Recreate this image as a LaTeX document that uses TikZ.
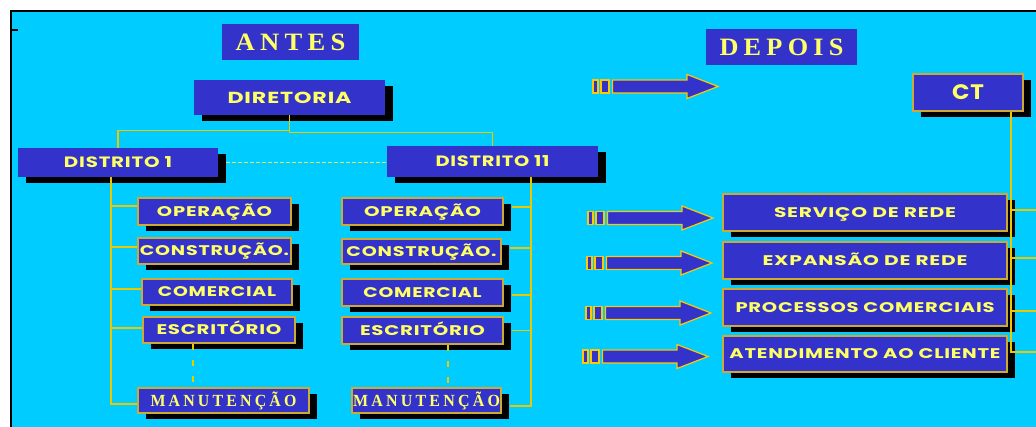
\documentclass[tikz,border=0pt]{standalone}
\usepackage{fontspec}
\usepackage{graphicx}
\usetikzlibrary{shadows}
\newfontfamily\boxfont{Poppins}[LetterSpace=4]
\newfontfamily\titlefont{Liberation Serif}[LetterSpace=20]
% set a label to an exact width, keeping its height
\newcommand{\fitw}[2]{\resizebox{#1pt}{\height}{#2}}

\definecolor{sky}{RGB}{0,204,255}
\definecolor{boxblue}{RGB}{51,51,204}
\definecolor{txtyellow}{RGB}{255,255,102}
\definecolor{edgegold}{RGB}{204,170,51}
\definecolor{linegold}{RGB}{235,200,0}
\definecolor{arrowgold}{RGB}{255,200,0}
\definecolor{dashyellow}{RGB}{220,235,90}

\tikzset{
  plainbox/.style={fill=boxblue, text=txtyellow, inner sep=0pt},
  shadowbox/.style={plainbox,
    drop shadow={shadow xshift=8pt, shadow yshift=-6pt, opacity=1, fill=black}},
  framebox/.style={shadowbox, draw=edgegold, line width=1.2pt},
  fs/.style={font=\boxfont\bfseries\fontsize{#1}{#1}\selectfont,
    text height={0.7*#1pt}, text depth=0pt},
  ts/.style={font=\titlefont\bfseries\fontsize{#1}{#1}\selectfont,
    text height={0.66*#1pt}, text depth=0pt},
  conn/.style={draw=linegold, line width=1.3pt},
  thinconn/.style={draw=linegold, line width=1.3pt},
  dashv/.style={draw=linegold, line width=1.3pt, dash pattern=on 6pt off 10pt},
  dashh/.style={draw=dashyellow, line width=0.9pt, dash pattern=on 3.5pt off 2.5pt},
  arrowbody/.style={fill=boxblue, draw=arrowgold, line width=1.2pt},
  blockarrow/.pic={
    \filldraw[arrowbody] (0,-6.5) rectangle (5,6.5);
    \filldraw[arrowbody] (8,-6.5) rectangle (16,6.5);
    \filldraw[arrowbody] (19.5,-6.5) -- (94,-6.5) -- (94,-12) -- (125,0)
      -- (94,12) -- (94,6.5) -- (19.5,6.5) -- cycle;
  }
}

\begin{document}
\begin{tikzpicture}[x=1pt,y=-1pt]
\useasboundingbox (0,0) rectangle (1036,427);
% page and frame
\fill[white] (0,0) rectangle (1036,427);
\fill[sky] (12,12) rectangle (1036,427);
\draw[black, line width=2pt] (11,427) -- (11,11) -- (1036,11);
\draw[black, line width=2pt] (11,30) -- (18,30);

% headings
\node[plainbox, ts=25, minimum width=137pt, minimum height=36pt] (antes) at (290.5,42) {\fitw{110}{ANTES}};
\node[plainbox, ts=25, minimum width=151pt, minimum height=36pt] (depois) at (781.5,47) {\fitw{124}{DEPOIS}};

% former structure
\node[shadowbox, fs=16, minimum width=191pt, minimum height=35pt] (dir) at (289.5,97.5) {\fitw{124}{DIRETORIA}};
\node[shadowbox, fs=15, minimum width=200pt, minimum height=29pt] (d1) at (118,162.5) {\fitw{108}{DISTRITO 1}};
\node[shadowbox, fs=15, minimum width=211pt, minimum height=31pt] (d11) at (492.5,161.5) {\fitw{114}{DISTRITO 11}};

\node[framebox, fs=14, minimum width=153pt, minimum height=27pt] (lo) at (214.5,211.5) {\fitw{115}{OPERAÇÃO}};
\node[framebox, fs=14, minimum width=153pt, minimum height=26pt] (lc) at (214.5,251) {\fitw{149}{CONSTRUÇÃO.}};
\node[framebox, fs=14, minimum width=150pt, minimum height=26pt] (lm) at (217,292) {\fitw{118}{COMERCIAL}};
\node[framebox, fs=14, minimum width=152pt, minimum height=26pt] (le) at (219,330) {\fitw{125}{ESCRITÓRIO}};
\node[framebox, ts=17, minimum width=171pt, minimum height=25pt] (ln) at (223.5,400.5) {\fitw{146}{MANUTENÇÃO}};

\node[framebox, fs=14, minimum width=161pt, minimum height=27pt] (ro) at (422.5,211.5) {\fitw{117}{OPERAÇÃO}};
\node[framebox, fs=14, minimum width=159pt, minimum height=25pt] (rc) at (421.5,251.5) {\fitw{150}{CONSTRUÇÃO.}};
\node[framebox, fs=14, minimum width=161pt, minimum height=27pt] (rm) at (422.5,292.5) {\fitw{118}{COMERCIAL}};
\node[framebox, fs=14, minimum width=161pt, minimum height=27pt] (re) at (422.5,330.5) {\fitw{125}{ESCRITÓRIO}};
\node[framebox, ts=17, minimum width=149pt, minimum height=25pt] (rn) at (426.5,400.5) {\fitw{147}{MANUTENÇÃO}};

% new structure
\node[framebox, fs=21, minimum width=110pt, minimum height=37pt] (ct) at (968,92.5) {\fitw{32}{CT}};
\node[framebox, fs=14, minimum width=284pt, minimum height=37pt] (serv) at (865,212.5) {\fitw{182}{SERVIÇO DE REDE}};
\node[framebox, fs=14, minimum width=284pt, minimum height=37pt] (exp) at (865,260.5) {\fitw{205}{EXPANSÃO DE REDE}};
\node[framebox, fs=14, minimum width=284pt, minimum height=37pt] (proc) at (865,307.5) {\fitw{259}{PROCESSOS COMERCIAIS}};
\node[framebox, fs=14, minimum width=284pt, minimum height=36pt] (aten) at (865,354) {\fitw{271}{ATENDIMENTO AO CLIENTE}};

% transition arrows
\pic at (593,86.5) {blockarrow};
\pic at (588,218) {blockarrow};
\pic at (587,263) {blockarrow};
\pic at (586,313) {blockarrow};
\pic at (583,356.5) {blockarrow};

% board to districts
\draw[conn] (dir.south) -- ++(0,15.5) -| (d1.north);
\draw[conn] (dir.south) -- ++(0,17) -| (d11.north);
\draw[dashh] ([xshift=8pt]d1.east) -- (d1.east -| d11.west);

% district 1 bus
\coordinate (lbus) at (111,0);
\draw[conn] (d1.south -| lbus) |- ([yshift=-3.5pt]ln.west);
\foreach \n/\s in {lo/5.5, lc/4, lm/3, le/2}
  \draw[conn] ([yshift=\s pt]\n.west) -- ([yshift=\s pt]\n.west -| lbus);
\draw[dashv] ([xshift=-26pt]le.south) -- ([xshift=-26pt]le.south |- ln.north);

% district 11 bus
\coordinate (rbus) at (531,0);
\draw[conn] (d11.south -| rbus) |- ([xshift=8pt,yshift=-5.5pt]rn.east);
\foreach \n/\s in {ro/4.5, rc/3.5, rm/-2.5, re/0}
  \draw[conn] ([xshift=8pt,yshift=\s pt]\n.east) -- ([yshift=\s pt]\n.east -| rbus);
\draw[dashv] ([xshift=25.5pt]re.south) -- ([xshift=25.5pt]re.south |- rn.north);

% CT bus
\coordinate (cbus) at (1011,0);
\coordinate (edge) at (1036,0);
\draw[thinconn] (ct.south -| cbus) -- ([yshift=1pt]aten.east -| cbus);
\foreach \n/\s in {serv/2.5, exp/2.5, proc/-3.5, aten/2}
  \draw[thinconn] ([yshift=\s pt]\n.east -| cbus) -- ([yshift=\s pt]\n.east -| edge);
\end{tikzpicture}
\end{document}
